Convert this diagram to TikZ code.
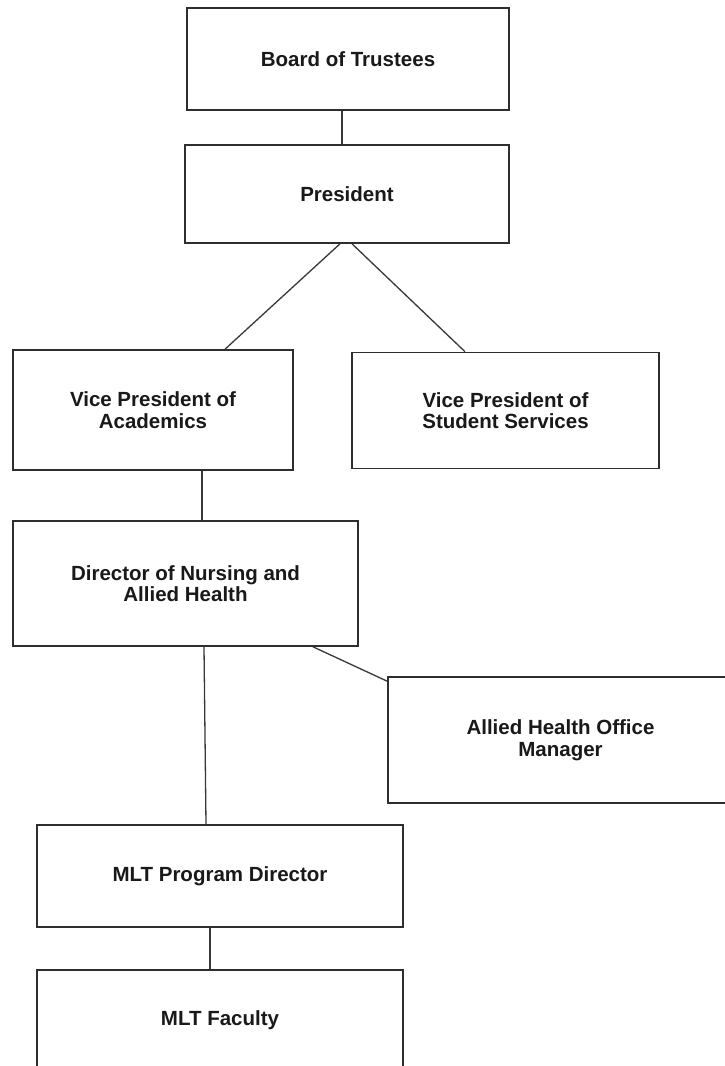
\documentclass[tikz,border=0pt]{standalone}
\usepackage{fontspec}
\setmainfont{Liberation Sans}
\begin{document}
\begin{tikzpicture}[x=1pt,y=-1pt,
  orgbox/.style={draw=black!82, line width=1.6pt, fill=white, align=center,
    inner sep=0pt, font=\fontsize{20.5}{21.5}\selectfont\bfseries, text=black!90},
  link/.style={draw=black!78, line width=1.3pt}]
\useasboundingbox (0,0) rectangle (725,1066);
\clip (0,0) rectangle (725,1066);
\fill[white] (0,0) rectangle (725,1066);

\node[orgbox, minimum width=322pt, minimum height=102pt] (board) at (348,59) {Board of Trustees};
\node[orgbox, minimum width=324pt, minimum height=98pt] (pres) at (347,194) {President};
\node[orgbox, minimum width=280pt, minimum height=120pt] (vpa) at (153,410) {Vice President of\\Academics};
\node[orgbox, minimum width=307pt, minimum height=116pt] (vps) at (505.5,410.5) {Vice President of\\Student Services};
\node[orgbox, minimum width=345pt, minimum height=125pt] (dir) at (185.5,583.5) {Director of Nursing and\\Allied Health};
\node[orgbox, minimum width=345pt, minimum height=126pt] (ahom) at (560.5,740) {Allied Health Office\\Manager};
\node[orgbox, minimum width=366pt, minimum height=102pt] (mltpd) at (220,876) {MLT Program Director};
\node[orgbox, minimum width=366pt, minimum height=100pt] (mltf) at (220,1020) {MLT Faculty};

\draw[link] ([xshift=-6pt]board.south) -- ([xshift=-5pt]pres.north);
\draw[link] ([xshift=-7pt]pres.south) -- ([xshift=72pt]vpa.north);
\draw[link] ([xshift=5pt]pres.south) -- ([xshift=-40.5pt]vps.north);
\draw[link] ([xshift=49pt]vpa.south) -- ([xshift=16.5pt]dir.north);
\draw[link] ([xshift=18.5pt]dir.south) -- ([xshift=-14pt]mltpd.north);
\draw[link] ([xshift=127.5pt]dir.south) -- ([yshift=-5pt]ahom.north west);
\draw[link] ([xshift=-10pt]mltpd.south) -- ([xshift=-10pt]mltf.north);
\end{tikzpicture}
\end{document}
